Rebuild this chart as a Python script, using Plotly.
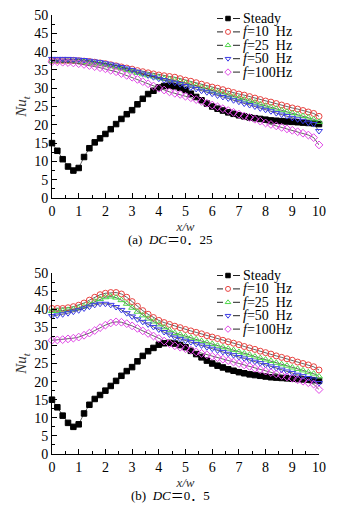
import plotly.graph_objects as go

x_vals = [round(i * 0.2, 1) for i in range(51)]

steady = [15.0, 12.9, 10.6, 8.6, 7.5, 8.2, 11.2, 13.6, 15.2, 16.3, 17.5, 18.8, 20.2, 21.6, 22.9,
          24.0, 25.6, 27.1, 28.4, 29.3, 30.2, 30.6, 30.7, 30.5, 30.1, 29.5, 28.5, 27.6, 26.7, 25.8,
          25.0, 24.4, 23.9, 23.4, 23.0, 22.6, 22.3, 22.0, 21.8, 21.6, 21.4, 21.2, 21.1, 21.0, 20.9,
          20.8, 20.7, 20.6, 20.5, 20.4, 20.2]

# (a) DC = 0.25
a_f10 = [37.6, 37.6, 37.6, 37.6, 37.6, 37.5, 37.4, 37.3, 37.1, 36.9, 36.7, 36.4, 36.1, 35.8, 35.5,
         35.2, 34.8, 34.5, 34.2, 33.9, 33.6, 33.4, 33.2,
         33.0, 32.6, 32.2, 31.9, 31.5, 31.1, 30.7, 30.3, 30.0, 29.6, 29.2, 28.8, 28.4, 28.1, 27.7,
         27.3, 26.9, 26.5, 26.2, 25.8, 25.4, 25.0, 24.6, 24.3, 23.9, 23.5, 23.1, 22.3]
a_f25 = [37.4, 37.4, 37.4, 37.4, 37.4, 37.3, 37.2, 37.0, 36.8, 36.6, 36.3, 36.0, 35.7, 35.4, 35.0,
         34.6, 34.2, 33.8, 33.5, 33.2, 32.9, 32.6, 32.4,
         32.2, 31.8, 31.4, 31.0, 30.6, 30.2, 29.7, 29.3, 28.9, 28.5, 28.1, 27.7, 27.3, 26.9, 26.5,
         26.1, 25.6, 25.2, 24.8, 24.4, 24.0, 23.6, 23.2, 22.8, 22.4, 22.0, 21.5, 20.8]
a_f50 = [38.0, 38.0, 38.0, 38.0, 37.9, 37.8, 37.7, 37.5, 37.3, 37.1, 36.8, 36.5, 36.2, 35.8, 35.4,
         35.0, 34.5, 34.0, 33.5, 33.0, 32.6, 32.2, 31.8,
         31.5, 31.1, 30.6, 30.2, 29.8, 29.3, 28.9, 28.5, 28.0, 27.6, 27.2, 26.7, 26.3, 25.8, 25.4,
         25.0, 24.5, 24.1, 23.7, 23.2, 22.8, 22.4, 21.9, 21.5, 21.1, 20.6, 20.2, 18.3]
a_f100 = [37.2, 37.2, 37.1, 37.0, 36.9, 36.7, 36.5, 36.2, 35.9, 35.6, 35.3, 34.9, 34.5, 34.0, 33.5,
          33.0, 32.4, 31.8, 31.2, 30.6, 30.0, 29.5, 29.0, 28.6, 28.3, 27.8, 27.4, 26.9, 26.4, 25.9,
          25.4, 24.9, 24.4, 23.9, 23.4, 22.9, 22.4, 22.0, 21.5, 21.0, 20.5, 20.1, 19.7, 19.3, 18.9,
          18.5, 18.1, 17.7, 17.2, 16.5, 14.5]

# (b) DC = 0.5
b_f10 = [40.2, 40.2, 40.2, 40.4, 40.7, 41.1, 41.7, 42.5, 43.3, 44.0, 44.4, 44.6, 44.6, 44.2, 43.3,
         42.1, 40.8, 39.6, 38.6, 37.7, 36.9, 36.3, 35.8, 35.3,
         34.9, 34.4, 34.0, 33.6, 33.2, 32.7, 32.3, 31.9, 31.4, 31.0, 30.6, 30.2, 29.7, 29.3, 28.9,
         28.4, 28.0, 27.6, 27.1, 26.7, 26.3, 25.9, 25.4, 25.0, 24.6, 24.1, 23.2]
b_f25 = [39.5, 39.5, 39.6, 39.8, 40.0, 40.3, 40.8, 41.4, 42.1, 42.8, 43.3, 43.5, 43.2, 42.5, 41.5,
         40.4, 39.3, 38.3, 37.4, 36.6, 35.8, 35.0, 34.2, 33.4,
         33.0, 32.5, 32.1, 31.7, 31.2, 30.8, 30.4, 29.9, 29.5, 29.1, 28.7, 28.2, 27.8, 27.4, 26.9,
         26.5, 26.1, 25.7, 25.2, 24.8, 24.4, 23.9, 23.5, 23.1, 22.6, 22.2, 21.4]
b_f50 = [38.1, 38.3, 38.6, 38.9, 39.3, 39.7, 40.2, 40.7, 41.2, 41.5, 41.5, 41.2, 40.6, 39.8, 38.9,
         38.0, 37.2, 36.5, 35.8, 35.1, 34.4, 33.7, 33.0, 32.2,
         31.8, 31.3, 30.9, 30.4, 30.0, 29.5, 29.1, 28.6, 28.2, 27.7, 27.3, 26.8, 26.4, 25.9, 25.5,
         25.1, 24.6, 24.2, 23.7, 23.3, 22.8, 22.4, 21.9, 21.5, 21.0, 20.6, 19.6]
b_f100 = [31.4, 31.5, 31.6, 31.8, 32.0, 32.3, 32.8, 33.4, 34.1, 34.9, 35.6, 36.2, 36.5, 36.4, 36.0,
          35.4, 34.7, 34.0, 33.3, 32.6, 31.9, 31.2, 30.5, 29.9,
          29.5, 29.1, 28.7, 28.2, 27.8, 27.4, 27.0, 26.6, 26.2, 25.8, 25.4, 25.0, 24.6, 24.2, 23.7,
          23.3, 22.9, 22.5, 22.1, 21.7, 21.3, 20.9, 20.5, 20.1, 19.7, 19.3, 17.8]

series_names = ["Steady", "<i>f</i>=10\u00a0\u00a0Hz", "<i>f</i>=25\u00a0\u00a0Hz",
                "<i>f</i>=50\u00a0\u00a0Hz", "<i>f</i>=100Hz"]
marker_colors = ["#000000", "#e8423f", "#4fd84a", "#3c3ce6", "#e048e6"]
marker_symbols = ["square", "circle-open", "triangle-up-open", "triangle-down-open", "diamond-open"]
x_ticks = list(range(0, 11))
y_ticks = list(range(0, 51, 5))
captions = ["(a)\u00a0\u00a0<i>DC</i>＝0．25", "(b)\u00a0\u00a0<i>DC</i>＝0．5"]

FONT = "Liberation Serif, Times New Roman, serif"
CAP_FONT = "Liberation Serif, Noto Sans CJK JP, serif"

# page is 350x505; the figure sits at an 8 px body margin
OFF = 8
W, H = 350 - OFF, 505 - OFF


def px(x):  # page pixel -> paper x
    return (x - OFF) / W


def py(y):  # page pixel -> paper y
    return 1 - (y - OFF) / H


fig = go.Figure()

panels = [
    (a_f10, a_f25, a_f50, a_f100),
    (b_f10, b_f25, b_f50, b_f100),
]
for p, freq in enumerate(panels):
    data = [steady] + list(freq)
    xa = "x" if p == 0 else "x2"
    ya = "y" if p == 0 else "y2"
    for i, ys in enumerate(data):
        fig.add_trace(go.Scatter(
            x=x_vals, y=ys, name=series_names[i], mode="lines+markers",
            xaxis=xa, yaxis=ya, showlegend=False, cliponaxis=False,
            line=dict(color="#222222", width=0.7),
            marker=dict(symbol=marker_symbols[i], color=marker_colors[i], size=6 if i else 5.5,
                        line=dict(color=marker_colors[i], width=1)),
        ))

# legend drawn in page-pixel space (overlay axis covering the whole figure)
legend_tops = [18.5, 275.5]
row_gap = 13.4
for top in legend_tops:
    for i, name in enumerate(series_names):
        yy = top + i * row_gap
        fig.add_trace(go.Scatter(
            x=[217, 223, None, 233, 240], y=[yy, yy, None, yy, yy], mode="lines",
            xaxis="x3", yaxis="y3", showlegend=False, hoverinfo="skip", cliponaxis=False,
            line=dict(color="#222222", width=1)))
        fig.add_trace(go.Scatter(
            x=[228], y=[yy], mode="markers",
            xaxis="x3", yaxis="y3", showlegend=False, hoverinfo="skip", cliponaxis=False,
            marker=dict(symbol=marker_symbols[i], color=marker_colors[i], size=5 if i else 4.5,
                        line=dict(color=marker_colors[i], width=1))))
        fig.add_annotation(text=name, x=242, y=yy, xref="x3", yref="y3", showarrow=False,
                           xanchor="left", yanchor="middle", borderpad=0,
                           font=dict(family=FONT, size=14, color="black"))

x_dom = [px(52), px(319)]
top_dom = [py(198), py(15)]
bot_dom = [py(454), py(273)]

axis_common = dict(showline=True, linecolor="black", linewidth=1, showgrid=False, zeroline=False,
                   ticks="inside", ticklen=5, tickcolor="black", tickwidth=1, automargin=False,
                   ticklabeloverflow="allow",
                   tickfont=dict(family=FONT, size=14, color="black"), mirror=False)

xaxis_common = dict(axis_common, range=[0, 10], tickvals=x_ticks, domain=x_dom,
                    minor=dict(ticks="inside", ticklen=3, dtick=0.5, tickcolor="black"),
                    title=dict(text="<i>x/w</i>", font=dict(family=FONT, size=13, color="#333"), standoff=0))
yaxis_common = dict(axis_common, range=[0, 50], tickvals=y_ticks,
                    minor=dict(ticks="inside", ticklen=3, dtick=2.5, tickcolor="black"),
                    title=dict(text="<i>Nu</i><sub><i>t</i></sub>", font=dict(family=FONT, size=15, color="#333"), standoff=3))

fig.update_layout(
    width=W, height=H,
    margin=dict(l=0, r=0, t=0, b=0),
    paper_bgcolor="white", plot_bgcolor="rgba(0,0,0,0)",
    xaxis=dict(xaxis_common, anchor="y"),
    yaxis=dict(yaxis_common, domain=top_dom, anchor="x"),
    xaxis2=dict(xaxis_common, anchor="y2"),
    yaxis2=dict(yaxis_common, domain=bot_dom, anchor="x2"),
    xaxis3=dict(domain=[0, 1], range=[OFF, OFF + W], visible=False, anchor="y3", fixedrange=True, automargin=False),
    yaxis3=dict(domain=[0, 1], range=[OFF + H, OFF], visible=False, anchor="x3", fixedrange=True, automargin=False),
    showlegend=False,
)

for cap, ypix in zip(captions, [240, 495]):
    fig.add_annotation(text=cap, x=px(170), y=py(ypix), xref="paper", yref="paper",
                       showarrow=False, xanchor="center", yanchor="middle",
                       font=dict(family=CAP_FONT, size=13, color="black"))

fig.write_html("out.html")
